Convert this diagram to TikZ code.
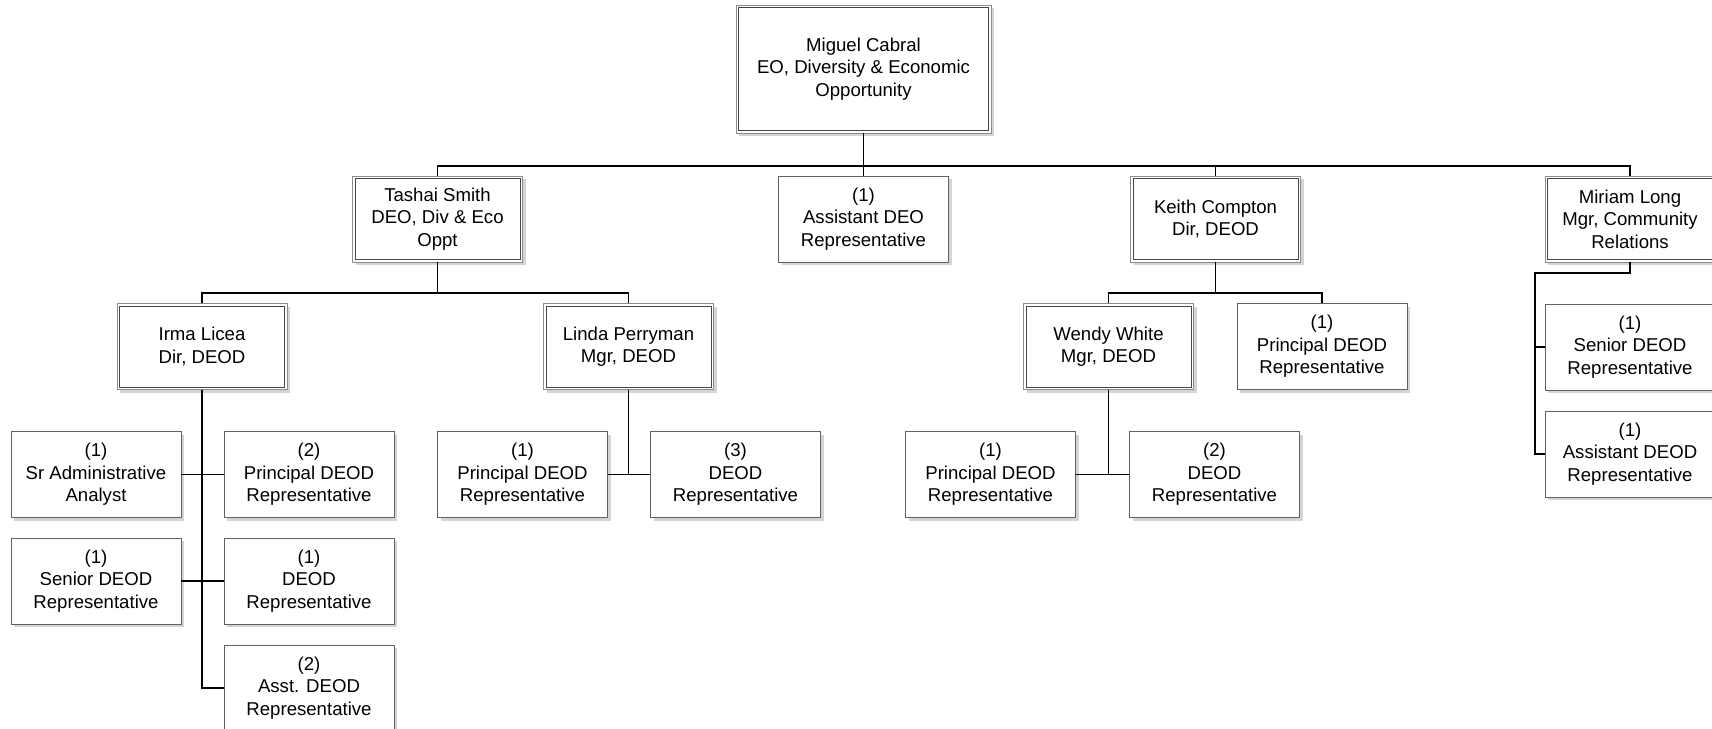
\documentclass[tikz,border=0pt]{standalone}
\usepackage{fontspec}
\setmainfont{Liberation Sans}
\usetikzlibrary{shadows}
\begin{document}
\begin{tikzpicture}[x=1pt,y=-1pt,
  box/.style={draw=black!62, fill=white, line width=0.9pt,
    minimum width=170pt, minimum height=86pt, inner sep=0pt, align=center,
    font=\fontsize{18.6}{22.6}\selectfont,
    drop shadow={shadow xshift=3pt, shadow yshift=-3pt, fill=black!17, opacity=1}},
  mgr/.style={box, draw=black!45},
  innerline/.style={draw=black!72, line width=0.9pt},
  trunk/.style={line width=1.8pt, draw=black},
  branch/.style={line width=1.2pt, draw=black}]
\useasboundingbox (0,0) rectangle (1712,728);
\fill[white] (0,0) rectangle (1712,728);

% nodes
\node[mgr, minimum width=255pt, minimum height=128pt] (miguel) at (863.5,69) {Miguel Cabral\\EO, Diversity \& Economic\\Opportunity};
\node[mgr] (tashai) at (437.5,219) {Tashai Smith\\DEO, Div \& Eco\\Oppt};
\node[box] (asstdeo) at (863.5,219) {(1)\\Assistant DEO\\Representative};
\node[mgr] (keith) at (1215.5,219) {Keith Compton\\Dir, DEOD};
\node[mgr] (miriam) at (1630,219) {Miriam Long\\Mgr, Community\\Relations};
\node[mgr] (irma) at (202,346.5) {Irma Licea\\Dir, DEOD};
\node[mgr] (linda) at (628.5,346.5) {Linda Perryman\\Mgr, DEOD};
\node[mgr] (wendy) at (1108.5,346.5) {Wendy White\\Mgr, DEOD};
\node[box] (kprin) at (1322,346.5) {(1)\\Principal DEOD\\Representative};
\node[box] (msen) at (1630,347) {(1)\\Senior DEOD\\Representative};
\node[box] (masst) at (1630,454) {(1)\\Assistant DEOD\\Representative};
\node[box] (srad) at (96,474.5) {(1)\\Sr Administrative\\Analyst};
\node[box] (iprin) at (309,474.5) {(2)\\Principal DEOD\\Representative};
\node[box] (isen) at (96,581) {(1)\\Senior DEOD\\Representative};
\node[box] (ideod) at (309,581) {(1)\\DEOD\\Representative};
\node[box] (iasst) at (309,688) {(2)\\Asst. DEOD\\Representative};
\node[box] (lprin) at (522.5,474.5) {(1)\\Principal DEOD\\Representative};
\node[box] (ldeod) at (735.5,474.5) {(3)\\DEOD\\Representative};
\node[box] (wprin) at (990.5,474.5) {(1)\\Principal DEOD\\Representative};
\node[box] (wdeod) at (1214.5,474.5) {(2)\\DEOD\\Representative};

% inner borders of manager boxes
\foreach \n in {miguel,tashai,keith,miriam,irma,linda,wendy}
  \draw[innerline] ([shift={(3pt,-3pt)}]\n.north west) rectangle ([shift={(-3pt,3pt)}]\n.south east);

% connectors
\coordinate (bus1) at (0,166);
\coordinate (bus2) at (0,293);
\coordinate (mv) at (1535,273);

\draw[branch] (tashai.north) -- (tashai.north |- bus1) -- (miriam.north |- bus1) -- (miriam.north);
\draw[branch] (keith.north) -- (keith.north |- bus1);
\draw[trunk] (miguel.south) -- (asstdeo.north);

\draw[branch] (irma.north) |- (linda.north |- bus2) -- (linda.north);
\draw[trunk] (tashai.south) -- (tashai.south |- bus2);

\draw[branch] (wendy.north) |- (kprin.north |- bus2) -- (kprin.north);
\draw[trunk] (keith.south) -- (keith.south |- bus2);

\draw[trunk] (miriam.south) |- (mv) -- (mv |- masst.west) -- (masst.west);
\draw[branch] (mv |- msen.west) -- (msen.west);

\draw[trunk] (irma.south) -- (irma.south |- iasst.west) -- (iasst.west);
\draw[branch] (srad.east) -- (iprin.west);
\draw[branch] (isen.east) -- (ideod.west);

\draw[trunk] (linda.south) -- (linda.south |- lprin.east);
\draw[branch] (lprin.east) -- (ldeod.west);

\draw[trunk] (wendy.south) -- (wendy.south |- wprin.east);
\draw[branch] (wprin.east) -- (wdeod.west);
\end{tikzpicture}
\end{document}
